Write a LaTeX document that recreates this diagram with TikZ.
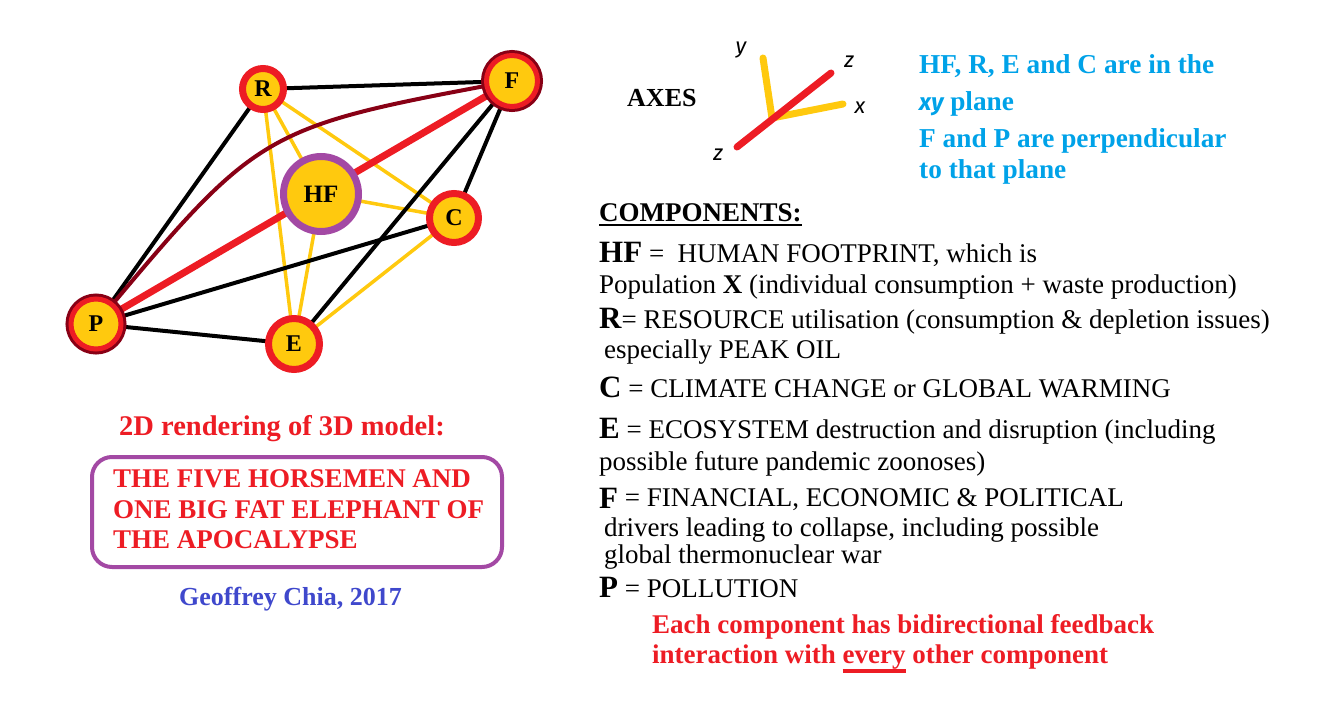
\documentclass[tikz,border=0pt]{standalone}
\usepackage{fontspec}
\setmainfont{Liberation Serif}
\newfontfamily\handfont{Fira Sans}
\usetikzlibrary{backgrounds,calc}
\definecolor{cred}{HTML}{ED1C24}
\definecolor{cyel}{HTML}{FFC90E}
\definecolor{cdark}{HTML}{880015}
\definecolor{cpurp}{HTML}{A349A4}
\definecolor{cblue}{HTML}{00A2E8}
\definecolor{cindigo}{HTML}{3F48CC}
\newcommand\bigL[1]{{\fontsize{31}{31}\selectfont\bfseries #1}}
\newcommand\redul[1]{\setbox0\hbox{#1}\rlap{\raisebox{-10pt}{\rule{\wd0}{4.5pt}}}\box0\relax}
\begin{document}
\begin{tikzpicture}[x=1pt,y=-1pt,
  ring/.style={circle, fill=cyel, draw=cred, line width=7pt, inner sep=0pt,
    font=\fontsize{24}{24}\selectfont\bfseries},
  dring/.style={ring, line width=5pt, preaction={draw=cdark, line width=11pt}},
  blk/.style={draw=black, line width=4pt},
  yel/.style={draw=cyel, line width=3.5pt},
  txt/.style={anchor=base west, inner sep=0pt, font=\fontsize{27}{30}\selectfont},
  btxt/.style={anchor=base west, inner sep=0pt, font=\fontsize{27}{30}\selectfont\bfseries},
  hand/.style={inner sep=0pt, font=\fontsize{22}{22}\selectfont\handfont\itshape},
  axis/.style={line width=7pt, line cap=round}
]
\useasboundingbox (0,0) rectangle (1344,723);

% ---------------- graph ----------------
\node[ring, minimum size=41pt] (R) at (263,89) {R};
\node[dring, minimum size=51pt] (F) at (512,81) {F};
\node[ring, draw=cpurp, minimum size=75pt, font=\fontsize{25}{25}\selectfont\bfseries] (HF) at (321,194) {HF};
\node[ring, minimum size=49pt] (C) at (454,218) {C};
\node[dring, minimum size=50pt] (P) at (96,324) {P};
\node[ring, minimum size=51pt] (E) at (294,344) {E};

\begin{scope}[on background layer]
  \draw[yel] (R.center) -- (HF.center);
  \draw[yel] (R.center) -- (C.center);
  \draw[yel] (R.center) -- (E.center);
  \draw[yel] (HF.center) -- (C.center);
  \draw[yel] (HF.center) -- (E.center);
  \draw[yel] (E.center) -- (C.center);
  \draw[blk] (R.center) -- (F.center);
  \draw[blk] (R.center) -- (P.center);
  \draw[blk] (P.center) -- (C.center);
  \draw[blk] (P.center) -- (E.center);
  \draw[blk] (E.center) -- (F.center);
  \draw[blk] (C.center) -- (F.center);
  \draw[cdark, line width=4pt] (P.center) .. controls (260,128) .. (F.center);
  \draw[cred, line width=7pt] (P.center) -- (F.center);
\end{scope}

% ---------------- left captions ----------------
\node[btxt, text=cred, font=\fontsize{28.5}{30}\selectfont\bfseries] (sub) at (119,435) {2D rendering of 3D model:};
\node[draw=cpurp, line width=4pt, rounded corners=20pt, minimum width=410pt, minimum height=110pt, inner sep=0pt] (box) at (297,512) {};
\node[btxt, text=cred] (t1) at (113,487) {THE FIVE HORSEMEN AND};
\node[btxt, text=cred] (t2) at (113,518) {ONE BIG FAT ELEPHANT OF};
\node[btxt, text=cred] (t3) at (113,548) {THE APOCALYPSE};
\node[btxt, text=cindigo, font=\fontsize{26}{30}\selectfont\bfseries] (auth) at (179,605) {Geoffrey Chia, 2017};

% ---------------- axes ----------------
\node[btxt, font=\fontsize{26}{30}\selectfont\bfseries] (axes) at (627,106) {AXES};
\coordinate (yT) at (763,58);
\coordinate (O) at (772,118);
\coordinate (xT) at (843,104);
\coordinate (zA) at (737,147);
\coordinate (zB) at (831,73);
\draw[axis, cyel] (yT) -- (O);
\draw[axis, cyel] (O) -- (xT);
\draw[axis, cred] (zA) -- (zB);
\node[hand] (ly) at (741,50) {y};
\node[hand] (lz1) at (849,62) {z};
\node[hand] (lx) at (860,108) {x};
\node[hand] (lz2) at (718,155) {z};

% ---------------- blue note ----------------
\node[btxt, text=cblue, font=\fontsize{27.3}{30}\selectfont\bfseries] (b1) at (919,73) {HF, R, E and C are in the};
\node[btxt, text=cblue, font=\fontsize{27.3}{30}\selectfont\bfseries] (b2) at (919,110) {{\handfont\itshape\fontsize{24}{24}\selectfont xy} plane};
\node[btxt, text=cblue, font=\fontsize{27.3}{30}\selectfont\bfseries] (b3) at (919,147) {F and P are perpendicular};
\node[btxt, text=cblue, font=\fontsize{27.3}{30}\selectfont\bfseries] (b4) at (919,178) {to that plane};

% ---------------- components ----------------
\node[btxt] (comp) at (599,221) {COMPONENTS:};
\draw[line width=1.5pt] ($(comp.base west)+(0,4)$) -- ($(comp.base east)+(0,4)$);
\node[txt] (l1) at (599,262) {\bigL{HF} =\ \ HUMAN FOOTPRINT, which is};
\node[txt] (l2) at (599,293) {Population \textbf{X} (individual consumption + waste production)};
\node[txt] (l3) at (599,328) {\bigL{R}= RESOURCE utilisation (consumption \& depletion issues)};
\node[txt] (l4) at (604,358) {especially PEAK OIL};
\node[txt] (l5) at (599,397) {\bigL{C} = CLIMATE CHANGE or GLOBAL WARMING};
\node[txt] (l6) at (599,438) {\bigL{E} = ECOSYSTEM destruction and disruption (including};
\node[txt] (l7) at (599,470) {possible future pandemic zoonoses)};
\node[txt] (l8) at (599,506) {\raisebox{-2pt}{\bigL{F}} = FINANCIAL, ECONOMIC \& POLITICAL};
\node[txt] (l9) at (604,536) {drivers leading to collapse, including possible};
\node[txt] (l10) at (604,563) {global thermonuclear war};
\node[txt] (l11) at (599,597) {\bigL{P} = POLLUTION};
\node[btxt, text=cred] (r1) at (652,633) {Each component has bidirectional feedback};
\node[btxt, text=cred] (r2) at (652,663) {interaction with \redul{every} other component};
\end{tikzpicture}
\end{document}
